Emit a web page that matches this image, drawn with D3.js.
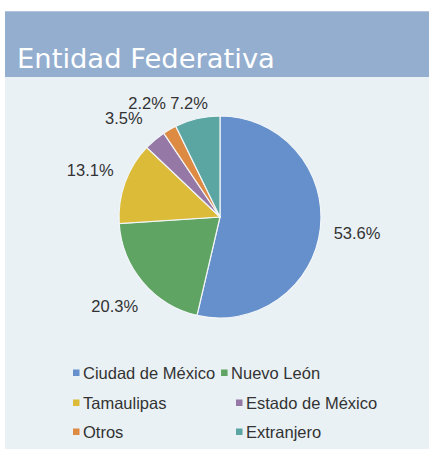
<!DOCTYPE html>
<html>
<head>
<meta charset="utf-8">
<script src="https://cdn.jsdelivr.net/npm/d3@7"></script>
<style>
body { margin: 0; background: #fff; }
text { font-family: "Liberation Sans", Arial, sans-serif; }
</style>
</head>
<body>
<div id="chart"></div>
<script>
var categories = ["Ciudad de México", "Nuevo León", "Tamaulipas", "Estado de México", "Otros", "Extranjero"];
var values = [53.6, 20.3, 13.1, 3.5, 2.2, 7.2];
var colors = ["#6590cc", "#5fa463", "#dbbb38", "#9678a6", "#dd8a43", "#5ba6a3"];
var title = "Entidad Federativa";

var W = 429, H = 449;
var cx = 220, cy = 217, radius = 101;
var labelR = 138;
var fontSize = 16.5;

var svg = d3.select("#chart")
  .append("svg")
  .attr("width", W)
  .attr("height", H);

// panel + header
svg.append("rect").attr("x", 5).attr("y", 11).attr("width", W - 5).attr("height", H - 11)
  .attr("fill", "#e9f1f5");
svg.append("rect").attr("x", 5).attr("y", 11).attr("width", W - 5).attr("height", 66)
  .attr("fill", "#94aecf");
svg.append("rect").attr("x", 5).attr("y", 11).attr("width", W - 5).attr("height", 1)
  .attr("fill", "#b3c6de");
var tt = svg.append("text")
  .attr("x", 17)
  .attr("y", 68)
  .style("font-family", "'DejaVu Sans', sans-serif")
  .style("font-size", "25px")
  .attr("fill", "#fff")
  .text(title);
// fit title width to the header like the original
var tw = tt.node().getComputedTextLength();
tt.style("font-size", (25 * 258 / tw) + "px");

var data = categories.map(function(c, i) { return {key: c, value: values[i], color: colors[i]}; });

var pie = d3.pie().sort(null).value(function(d) { return d.value; });
var arcs = pie(data);
var arc = d3.arc().innerRadius(0).outerRadius(radius);

var g = svg.append("g").attr("transform", "translate(" + cx + "," + cy + ")");

g.selectAll("path.slice")
  .data(arcs)
  .enter()
  .append("path")
  .attr("class", "slice")
  .attr("d", arc)
  .attr("fill", function(d) { return d.data.color; })
  .attr("stroke", "#f2f6f8")
  .attr("stroke-width", 1.2);

// labels: place outside, then nudge to stay inside the panel and not overlap
var topLimit = 103 - cy;
var labelW = 40, labelH = 14;
var labels = arcs.map(function(d) {
  return {d: d, a: (d.startAngle + d.endAngle) / 2, text: d3.format(".1f")(d.data.value) + "%"};
});
function place(l) {
  l.x = Math.sin(l.a) * labelR;
  l.y = -Math.cos(l.a) * labelR;
  if (l.y < topLimit) l.y = topLimit;
}
function overlap(a, b) {
  return Math.abs(a.x - b.x) < labelW && Math.abs(a.y - b.y) < labelH;
}
labels.forEach(place);
for (var i = labels.length - 2; i >= 0; i--) {
  var n = 0;
  while (overlap(labels[i], labels[i + 1]) && n < 60) {
    labels[i].a -= Math.PI / 180;
    place(labels[i]);
    n++;
  }
}

g.selectAll("text.lbl")
  .data(labels)
  .enter()
  .append("text")
  .attr("class", "lbl")
  .attr("x", function(l) { return l.x; })
  .attr("y", function(l) { return l.y; })
  .attr("dy", "0.36em")
  .attr("text-anchor", "middle")
  .style("font-size", fontSize + "px")
  .attr("fill", "#333")
  .text(function(l) { return l.text; });

// legend: first row packed, other rows in two columns
var legRows = [373, 403, 432];
var colX = [73, 236];
var legend = svg.append("g");
var prevEnd = 0;
data.forEach(function(d, i) {
  var row = Math.floor(i / 2), col = i % 2;
  var x = colX[col];
  if (col === 1 && row === 0) x = prevEnd + 6;
  var item = legend.append("g").attr("transform", "translate(" + x + "," + legRows[row] + ")");
  item.append("rect").attr("x", 0).attr("y", -3.5).attr("width", 6.5).attr("height", 6.5)
    .attr("fill", d.color);
  var t = item.append("text")
    .attr("x", 10)
    .attr("dy", "0.36em")
    .style("font-size", fontSize + "px")
    .attr("fill", "#333")
    .text(d.key);
  if (col === 0) prevEnd = x + 10 + t.node().getComputedTextLength();
});
</script>
</body>
</html>
